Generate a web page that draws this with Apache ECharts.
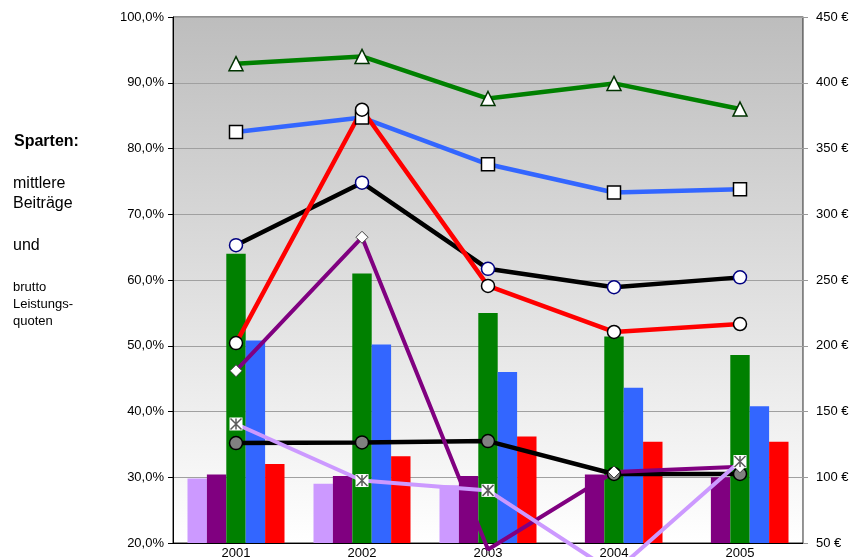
<!DOCTYPE html>
<html>
<head>
<meta charset="utf-8">
<title>Sparten</title>
<script src="https://cdn.jsdelivr.net/npm/echarts@6/dist/echarts.min.js"></script>
<style>
  html, body { margin: 0; padding: 0; background: #fff; }
  #chart { width: 854px; height: 557px; }
</style>
</head>
<body>
<div id="chart"></div>
<script>
// Jahre
var years = ['2001', '2002', '2003', '2004', '2005']

// mittlere Beiträge (Säulen, rechte Achse, €)
var barLila = [99, 95, 94, null, null]
var barViolett = [102, 101, 101, 102, 100]
var barGruen = [270, 255, 225, 207, 193]
var barBlau = [204, 201, 180, 168, 154]
var barRot = [110, 116, 131, 127, 127]

// brutto Leistungsquoten (Linien, linke Achse, %)
var quoteGruen = [92.9, 94.0, 87.6, 89.9, 86.0]
var quoteBlau = [82.5, 84.7, 77.6, 73.3, 73.8]
var quoteSchwarz = [65.3, 74.8, 61.7, 58.9, 60.4]
var quoteRot = [50.4, 85.9, 59.1, 52.1, 53.3]
var quoteViolett = [46.2, 66.5, 19.0, 30.8, 31.6]
var quoteGrau = [35.2, 35.3, 35.5, 30.5, 30.5]
var quoteLila = [38.1, 29.5, 28.0, 15.5, 32.4]

var pctMin = 20
var fontName = 'Liberation Sans, Arial, sans-serif'

// Punkte unterhalb der Achse: Linie weiterzeichnen, aber ohne Marker
function points(arr) {
  return arr.map(function (v) {
    if (v !== null && v < pctMin) {
      return { value: v, symbol: 'none' }
    }
    return v
  })
}

function lineSeries(name, data, color, width, symbol, size, fill, border, borderWidth) {
  return {
    name: name,
    type: 'line',
    yAxisIndex: 0,
    data: points(data),
    clip: false,
    symbol: symbol,
    symbolSize: size,
    showAllSymbol: true,
    lineStyle: { color: color, width: width },
    itemStyle: { color: fill, borderColor: border, borderWidth: borderWidth },
    emphasis: { disabled: true },
    z: 3
  }
}

function barSeries(name, data, color) {
  return {
    name: name,
    type: 'bar',
    yAxisIndex: 1,
    data: data,
    barGap: '0%',
    barCategoryGap: '23%',
    itemStyle: { color: color },
    emphasis: { disabled: true },
    z: 2
  }
}

var chart = echarts.init(document.getElementById('chart'))

var option = {
  animation: false,
  textStyle: { fontFamily: fontName },
  grid: {
    left: 173,
    right: 51,
    top: 17,
    bottom: 14,
    outerBoundsMode: 'none',
    containLabel: false,
    show: true,
    borderColor: '#222',
    borderWidth: 1,
    backgroundColor: new echarts.graphic.LinearGradient(0, 0, 0, 1, [
      { offset: 0, color: '#bdbdbd' },
      { offset: 1, color: '#ffffff' }
    ])
  },
  graphic: [
    { type: 'text', left: 14, top: 134, style: { text: 'Sparten:', font: 'bold 16px ' + fontName, fill: '#000' } },
    { type: 'text', left: 13, top: 176, style: { text: 'mittlere', font: '16px ' + fontName, fill: '#000' } },
    { type: 'text', left: 13, top: 196, style: { text: 'Beiträge', font: '16px ' + fontName, fill: '#000' } },
    { type: 'text', left: 13, top: 238, style: { text: 'und', font: '16px ' + fontName, fill: '#000' } },
    { type: 'text', left: 13, top: 281, style: { text: 'brutto', font: '13px ' + fontName, fill: '#000' } },
    { type: 'text', left: 13, top: 298, style: { text: 'Leistungs-', font: '13px ' + fontName, fill: '#000' } },
    { type: 'text', left: 13, top: 315, style: { text: 'quoten', font: '13px ' + fontName, fill: '#000' } }
  ],
  xAxis: {
    type: 'category',
    data: years,
    boundaryGap: true,
    axisLine: { lineStyle: { color: '#000', width: 1 } },
    axisTick: { show: false },
    axisLabel: { color: '#000', fontSize: 13, margin: 4 },
    splitLine: { show: false }
  },
  yAxis: [
    {
      type: 'value',
      position: 'left',
      min: 20,
      max: 100,
      interval: 10,
      axisLine: { show: true, lineStyle: { color: '#000', width: 1 } },
      axisTick: { show: true, inside: false, length: 5, lineStyle: { color: '#000' } },
      axisLabel: {
        color: '#000',
        fontSize: 13,
        margin: 9,
        formatter: function (v) { return v.toFixed(1).replace('.', ',') + '%' }
      },
      splitLine: { show: true, lineStyle: { color: '#a0a0a0', width: 1 } }
    },
    {
      type: 'value',
      position: 'right',
      min: 50,
      max: 450,
      interval: 50,
      axisLine: { show: true, lineStyle: { color: '#999', width: 1 } },
      axisTick: { show: true, inside: false, length: 5, lineStyle: { color: '#999' } },
      axisLabel: { color: '#000', fontSize: 13, margin: 13, formatter: '{value} €' },
      splitLine: { show: false }
    }
  ],
  series: [
    barSeries('Lila', barLila, '#cc99ff'),
    barSeries('Violett', barViolett, '#800080'),
    barSeries('Grün', barGruen, '#008000'),
    barSeries('Blau', barBlau, '#3366ff'),
    barSeries('Rot', barRot, '#ff0000'),

    lineSeries('Quote Grau', quoteGrau, '#000000', 4.5, 'circle', 13, '#808080', '#000', 1.5),
    lineSeries('Quote Violett', quoteViolett, '#800080', 4, 'diamond', 12, '#ffffff', '#404040', 1),
    lineSeries('Quote Lila', quoteLila, '#cc99ff', 4, 'rect', 13, '#ffffff', '#ffffff', 0),
    {
      name: 'Quote Lila Marker',
      type: 'scatter',
      yAxisIndex: 0,
      data: quoteLila.map(function (v) { return v < pctMin ? null : v }),
      symbol: 'path://M0,0L10,10M10,0L0,10M5,0L5,10',
      symbolSize: 11,
      itemStyle: { color: 'rgba(0,0,0,0)', borderColor: '#333', borderWidth: 1.5 },
      emphasis: { disabled: true },
      z: 3
    },
    lineSeries('Quote Grün', quoteGruen, '#008000', 4.5, 'triangle', 14, '#ffffff', '#003300', 1.5),
    lineSeries('Quote Blau', quoteBlau, '#3366ff', 4.5, 'rect', 13, '#ffffff', '#000', 1.5),
    lineSeries('Quote Schwarz', quoteSchwarz, '#000000', 4.5, 'circle', 13, '#ffffff', '#000080', 1.5),
    lineSeries('Quote Rot', quoteRot, '#ff0000', 4.5, 'circle', 13, '#ffffff', '#000', 1.5)
  ]
}

chart.setOption(option)
</script>
</body>
</html>
